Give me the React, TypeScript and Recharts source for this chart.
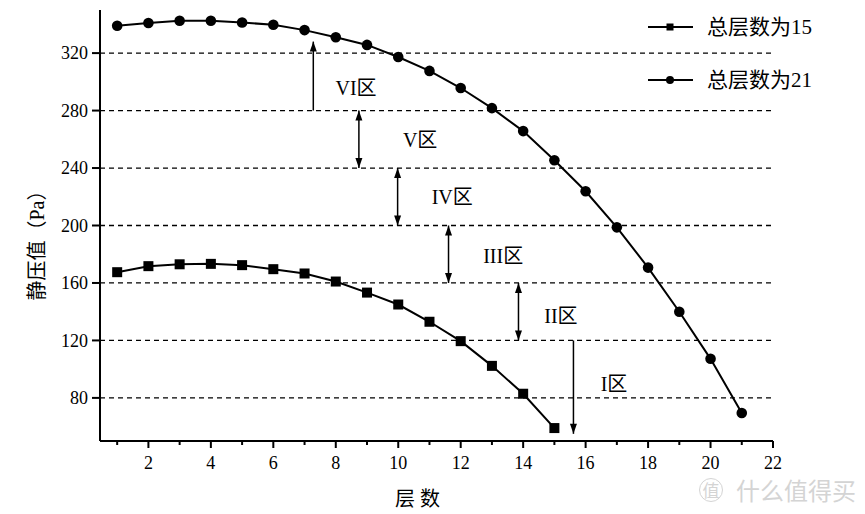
import React from 'react';
import { LineChart, Line, XAxis, YAxis, CartesianGrid, Legend, ReferenceLine, ReferenceDot, Label } from 'recharts';

const floors = [1, 2, 3, 4, 5, 6, 7, 8, 9, 10, 11, 12, 13, 14, 15, 16, 17, 18, 19, 20, 21];
const total15 = [167.5, 171.7, 173, 173.3, 172.4, 169.6, 166.6, 161, 153.3, 145, 133, 119.5, 102.3, 82.9, 59];
const total21 = [339, 341, 342.5, 342.5, 341.3, 339.7, 336, 331, 325.7, 317.3, 307.6, 295.7, 281.7, 265.7, 245.4, 223.8, 198.7, 170.7, 140, 107.2, 69.5];
const seriesNames = ['总层数为15', '总层数为21'];

const xTicks = [1, 2, 3, 4, 5, 6, 7, 8, 9, 10, 11, 12, 13, 14, 15, 16, 17, 18, 19, 20, 21, 22];
const yTicks = [80, 120, 160, 200, 240, 280, 320];

const zoneNames = ['VI区', 'V区', 'IV区', 'III区', 'II区', 'I区'];
const zoneArrowX = [7.28, 8.74, 9.98, 11.61, 13.85, 15.61];
const zoneFrom = [280, 280, 240, 200, 160, 120];
const zoneTo = [328, 240, 200, 160, 120, 55];
const zoneBoth = [false, true, true, true, true, false];
const zoneLabelX = [8.65, 10.7, 11.73, 13.36, 15.21, 16.91];
const zoneLabelY = [295.7, 259.4, 219.6, 179, 137.2, 89.8];

const data = floors.map((f, i) => ({ x: f, s15: total15[i], s21: total21[i] }));

const SERIF = '"Liberation Serif", "Times New Roman", "Noto Sans CJK SC", serif';

const XTick = (props: any) => {
  const { x, y, payload } = props;
  const v = payload.value;
  const major = v % 2 === 0;
  return (
    <g>
      <line x1={x} x2={x} y1={y} y2={y + (major ? 7 : 4)} stroke="#000" strokeWidth={2} />
      {major && (
        <text x={x} y={y + 28} textAnchor="middle" fontSize={18} fontFamily={SERIF} fill="#000">
          {v}
        </text>
      )}
    </g>
  );
};

const SquareDot = (props: any) => {
  const { cx, cy } = props;
  if (cx == null || cy == null || isNaN(cy)) return null;
  return <rect x={cx - 5} y={cy - 5} width={10} height={10} fill="#000" />;
};

const CircleDot = (props: any) => {
  const { cx, cy } = props;
  if (cx == null || cy == null || isNaN(cy)) return null;
  return <circle cx={cx} cy={cy} r={5.3} fill="#000" />;
};

const head = (x: number, y: number, dir: number) => {
  const len = 10;
  const hw = 3.5;
  return <polygon points={`${x},${y} ${x - hw},${y - dir * len} ${x + hw},${y - dir * len}`} fill="#000" />;
};

const makeArrow = (both: boolean) => (p: any) => {
  const { x1, y1, x2, y2 } = p;
  const dir = y2 < y1 ? -1 : 1;
  return (
    <g>
      <line x1={x1} y1={y1} x2={x2} y2={y2} stroke="#000" strokeWidth={1.5} />
      {head(x2, y2, dir)}
      {both && head(x1, y1, -dir)}
    </g>
  );
};

const makeZoneText = (name: string) => (p: any) => (
  <text x={p.cx} y={p.cy} dy={7} textAnchor="middle" fontSize={20} fontFamily={SERIF} fill="#000">
    {name}
  </text>
);

const renderLegend = (props: any) => {
  const payload = props.payload || [];
  return (
    <svg width={225} height={95}>
      {payload.map((e: any, i: number) => {
        const cy = 19 + i * 53;
        return (
          <g key={i}>
            <line x1={8} x2={53} y1={cy} y2={cy} stroke="#000" strokeWidth={2} />
            {e.type === 'square' ? (
              <rect x={26.5} y={cy - 3.5} width={7} height={7} fill="#000" />
            ) : (
              <circle cx={30} cy={cy} r={4} fill="#000" />
            )}
            <text x={67} y={cy + 7} fontSize={21} fontFamily={SERIF} fill="#000">
              {e.value}
            </text>
          </g>
        );
      })}
    </svg>
  );
};

const YLabel = (props: any) => {
  const vb = props.viewBox || { x: 0, y: 0, width: 100, height: 431 };
  const cx = vb.x + 37;
  const cy = vb.y + vb.height / 2 + 15;
  return (
    <text x={cx} y={cy} transform={`rotate(-90 ${cx} ${cy})`} textAnchor="middle" dominantBaseline="central" fontSize={20} fontFamily={SERIF} fill="#000">
      静压值（Pa）
    </text>
  );
};

export default function App() {
  return (
    <div style={{ position: 'absolute', left: 0, top: 0, width: 865, height: 514, background: '#fff' }}>
      <LineChart width={865} height={514} data={data} margin={{ top: 10, right: 92, left: 0, bottom: 0 }}>
        <CartesianGrid horizontal vertical={false} horizontalValues={yTicks} stroke="#000" strokeWidth={1.3} strokeDasharray="5 4" />
        <XAxis
          type="number"
          dataKey="x"
          domain={[0.45, 22]}
          ticks={xTicks}
          interval={0}
          allowDataOverflow
          height={73}
          tickSize={0}
          tickMargin={0}
          tickLine={false}
          tick={<XTick />}
          axisLine={{ stroke: '#000', strokeWidth: 2 }}
        >
          <Label value="层  数" position="insideBottom" offset={8} dx={-19} fontSize={20} fontFamily={SERIF} fill="#000" />
        </XAxis>
        <YAxis
          type="number"
          domain={[50, 350]}
          ticks={yTicks}
          interval={0}
          allowDataOverflow
          width={100}
          tickSize={8}
          tickMargin={4}
          tickLine={{ stroke: '#000', strokeWidth: 2 }}
          axisLine={{ stroke: '#000', strokeWidth: 2 }}
          tick={{ fontSize: 18, fontFamily: SERIF, fill: '#000' }}
          label={<YLabel />}
        />
        <Legend
          layout="vertical"
          align="center"
          verticalAlign="middle"
          content={renderLegend}
          wrapperStyle={{ left: 640, top: 8, width: 225, height: 95 }}
        />
        {zoneNames.map((n, i) => (
          <ReferenceLine
            key={'a' + i}
            segment={[{ x: zoneArrowX[i], y: zoneFrom[i] }, { x: zoneArrowX[i], y: zoneTo[i] }]}
            shape={makeArrow(zoneBoth[i])}
            ifOverflow="visible"
          />
        ))}
        {zoneNames.map((n, i) => (
          <ReferenceDot key={'t' + i} x={zoneLabelX[i]} y={zoneLabelY[i]} r={0} shape={makeZoneText(n)} ifOverflow="visible" />
        ))}
        <Line
          name={seriesNames[0]}
          dataKey="s15"
          legendType="square"
          stroke="#000"
          strokeWidth={2}
          dot={<SquareDot />}
          activeDot={false}
          isAnimationActive={false}
          connectNulls={false}
        />
        <Line
          name={seriesNames[1]}
          dataKey="s21"
          legendType="circle"
          stroke="#000"
          strokeWidth={2}
          dot={<CircleDot />}
          activeDot={false}
          isAnimationActive={false}
        />
      </LineChart>
      <div
        style={{
          position: 'absolute',
          left: 699,
          top: 478,
          fontFamily: '"Noto Sans CJK SC", sans-serif',
          fontSize: 24,
          lineHeight: '24px',
          color: '#d4d4d4',
          display: 'flex',
          alignItems: 'center',
          whiteSpace: 'nowrap',
        }}
      >
        <span
          style={{
            display: 'inline-block',
            width: 22,
            height: 22,
            lineHeight: '22px',
            border: '1px solid #d4d4d4',
            borderRadius: 12,
            fontSize: 17,
            textAlign: 'center',
            marginRight: 13,
          }}
        >
          值
        </span>
        <span>什么值得买</span>
      </div>
    </div>
  );
}
